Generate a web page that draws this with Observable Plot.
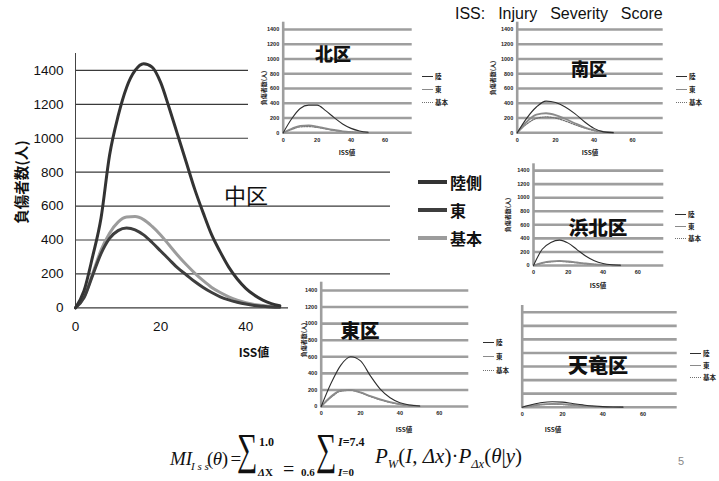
<!DOCTYPE html>
<html><head><meta charset="utf-8">
<script src="https://cdn.jsdelivr.net/npm/d3@7"></script>
<script src="https://cdn.jsdelivr.net/npm/@observablehq/plot@0.6"></script>
<style>
body{margin:0;background:#fff;}
#root{position:relative;width:719px;height:481px;overflow:hidden;background:#fff;}
.a{position:absolute;white-space:pre;line-height:1;}
.jp{font-family:"Noto Sans CJK JP",sans-serif;}
.f{position:absolute;white-space:pre;line-height:1;font-family:"Liberation Serif",serif;color:#111;}
.lg{position:absolute;height:0;}
</style></head>
<body><div id="root"></div>
<script>
// ---------------- data ----------------
const seriesMain = ["陸側", "東", "基本"];
const seriesInset = ["陸", "東", "基本"];
const yTicks = [0, 200, 400, 600, 800, 1000, 1200, 1400];
const xTicks = [0, 20, 40, 60];

const xsMain = [0,2,4,6,8,10,12,14,16,18,20,22,24,26,28,30,32,34,36,38,40,42,44,46,48];
const chuRiku    = [0,100,300,530,900,1130,1300,1400,1440,1420,1330,1180,1020,860,700,560,430,330,240,170,115,75,45,25,12];
const chuHigashi = [0,60,190,320,410,455,470,460,430,385,335,285,235,195,155,120,90,65,47,33,22,14,9,5,3];
const chuKihon   = [0,60,200,340,440,505,535,538,520,480,430,370,310,255,205,160,120,90,65,45,30,20,13,8,5];

const xsInset = [0,5,10,15,20,25,30,35,40,45,50];
const kitaRiku     = [0,190,330,375,375,300,205,120,60,25,8];
const kitaHigashi  = [0,55,95,100,85,60,38,20,10,4,1];
const kitaKihon    = [0,45,80,85,72,52,32,18,9,4,1];
const minamiRiku    = [0,200,350,430,410,350,260,150,60,12,2];
const minamiHigashi = [0,150,245,265,240,190,130,75,35,12,3];
const minamiKihon   = [0,120,195,215,200,160,110,65,30,10,3];
const hamakitaRiku    = [0,240,340,375,330,235,140,70,30,10,3];
const hamakitaHigashi = [0,40,62,68,60,45,30,18,9,4,1];
const hamakitaKihon   = [0,35,55,60,52,40,27,16,8,3,1];
const higashiRiku    = [0,280,500,600,550,370,210,105,45,18,6];
const higashiHigashi = [0,120,195,200,170,125,85,52,28,12,4];
const higashiKihon   = [0,110,185,195,165,120,80,48,25,10,3];
const tenryuRiku    = [0,40,70,80,75,55,35,18,8,3,1];
const tenryuHigashi = [0,25,42,48,44,33,22,12,6,2,1];
const tenryuKihon   = [0,22,38,44,40,30,20,11,5,2,0];

// ---------------- helpers ----------------
const root = document.getElementById("root");
const fmt = d3.format("d");
function rows(xs, arrays, names) {
  const out = [];
  arrays.forEach((arr, i) => arr.forEach((v, j) => out.push({x: xs[j], y: v, s: names[i]})));
  return out;
}
function place(el, left, top) {
  el.style.position = "absolute"; el.style.left = left + "px"; el.style.top = top + "px";
  el.style.background = "#fff"; el.style.maxWidth = "none";
  root.appendChild(el); return el;
}
function html(str, cls, style) {
  const d = document.createElement("div");
  d.className = cls; d.setAttribute("style", style); d.innerHTML = str;
  root.appendChild(d); return d;
}

// ---------------- main chart (中区) ----------------
const mainRows = rows(xsMain, [chuRiku, chuHigashi, chuKihon], seriesMain);
const mainColors = {"陸側": "#333", "東": "#3e3e3e", "基本": "#9c9c9c"};
const mainPlot = Plot.plot({
  width: 719, height: 481,
  marginLeft: 75, marginRight: 329, marginTop: 53, marginBottom: 173.7,
  style: "font-family:'Liberation Sans',sans-serif;background:#fff;",
  x: {domain: [0, 74]},
  y: {domain: [0, 1500]},
  marks: [
    Plot.ruleY(yTicks, {stroke: "#3a3a3a", strokeWidth: 1.2}),
    Plot.ruleX([0], {stroke: "#444", strokeWidth: 1}),
    Plot.axisY({ticks: yTicks, tickFormat: fmt, tickSize: 0, tickPadding: 12, fontSize: 13.5, fill: "#111", label: null}),
    Plot.axisX({ticks: xTicks, tickFormat: fmt, tickSize: 0, tickPadding: 14, fontSize: 13.5, fill: "#111", label: null}),
    ...seriesMain.slice().reverse().map(s =>
      Plot.line(mainRows.filter(d => d.s === s), {x: "x", y: "y", stroke: mainColors[s], strokeWidth: 3, curve: "monotone-x"}))
  ]
});
place(mainPlot, 0, 0);

// ---------------- insets ----------------
const insets = [
  {name: "北区", data: [kitaRiku, kitaHigashi, kitaKihon], left: 248, top: 20, w: 222, h: 138, ml: 34.7, mr: 58.3, mt: 1.7, mb: 25.7, xmax: 76, ylab: true},
  {name: "南区", data: [minamiRiku, minamiHigashi, minamiKihon], left: 478, top: 20, w: 241, h: 138, ml: 38.7, mr: 56.3, mt: 1.7, mb: 25.7, xmax: 76, ylab: true},
  {name: "浜北区", data: [hamakitaRiku, hamakitaHigashi, hamakitaKihon], left: 478, top: 159, w: 241, h: 131, ml: 55, mr: 55.7, mt: 4.3, mb: 25, xmax: 75, ylab: true},
  {name: "東区", data: [higashiRiku, higashiHigashi, higashiKihon], left: 288, top: 278, w: 222, h: 157, ml: 32.7, mr: 41.7, mt: 3.7, mb: 29, xmax: 75, ylab: true},
  {name: "天竜区", data: [tenryuRiku, tenryuHigashi, tenryuKihon], left: 508, top: 290, w: 211, h: 145, ml: 13.7, mr: 42.3, mt: 15, mb: 28.3, xmax: 77, ylab: false}
];
const insetStyle = {
  "陸": {stroke: "#2e2e2e", strokeWidth: 1.1},
  "東": {stroke: "#8a8a8a", strokeWidth: 1.8},
  "基本": {stroke: "#707070", strokeWidth: 1.2, strokeDasharray: "1.5,1.2"}
};
insets.forEach(c => {
  const r = rows(xsInset, c.data, seriesInset);
  const p = Plot.plot({
    width: c.w, height: c.h,
    marginLeft: c.ml, marginRight: c.mr, marginTop: c.mt, marginBottom: c.mb,
    style: "font-family:'Liberation Sans',sans-serif;background:#fff;",
    x: {domain: [0, c.xmax], axis: null},
    y: {domain: [0, 1500], axis: null},
    marks: [
      Plot.ruleY(yTicks, {stroke: "#9e9e9e", strokeWidth: 2.6}),
      Plot.ruleX([0], {stroke: "#9e9e9e", strokeWidth: 2.6}),
      c.ylab ? Plot.axisY({ticks: yTicks, tickFormat: fmt, tickSize: 0, tickPadding: 4, fontSize: 5.5, fontWeight: "bold", fill: "#222", label: null}) : null,
      Plot.axisX({ticks: xTicks, tickFormat: fmt, tickSize: 0, tickPadding: 5, fontSize: 5.5, fontWeight: "bold", fill: "#222", label: null}),
      ...seriesInset.slice().reverse().map(s =>
        Plot.line(r.filter(d => d.s === s), {x: "x", y: "y", curve: "monotone-x", ...insetStyle[s]}))
    ]
  });
  place(p, c.left, c.top);
});

// ---------------- texts ----------------
html("ISS:  Injury  Severity  Score", "a", "left:455px;top:5px;font:16px 'Liberation Sans',sans-serif;word-spacing:2px;color:#111;");
html("負傷者数(人)", "a jp", "left:21px;top:182px;transform:translate(-50%,-50%) rotate(-90deg);font-size:14.5px;font-weight:700;color:#111;");
html("中区", "a jp", "left:246px;top:194px;transform:translate(-50%,-50%);font-size:22px;color:#111;");
html("ISS値", "a jp", "left:254px;top:352px;transform:translate(-50%,-50%);font-size:12px;font-weight:700;color:#111;");

// main legend
[["陸側", 181.7], ["東", 210], ["基本", 238.3]].forEach(([s, y]) => {
  html("", "lg", `left:418px;top:${y - 2}px;width:29px;height:4px;background:${mainColors[s]};`);
  html(s, "a jp", `left:450px;top:${y}px;transform:translateY(-52%);font-size:16px;font-weight:700;color:#111;`);
});

// inset texts
const insetText = [
  {title: "北区", tx: 333, ty: 53, fs: 18, ylx: 264, yly: 88, isx: 347, isy: 152, lgx: 422, lgy: [76, 89.3, 101.7]},
  {title: "南区", tx: 589, ty: 68, fs: 18, ylx: 493, yly: 78, isx: 590, isy: 152, lgx: 676, lgy: [76, 89, 101.7]},
  {title: "浜北区", tx: 598, ty: 227, fs: 19.5, ylx: 508, yly: 215, isx: 598, isy: 284.5, lgx: 675, lgy: [214, 226, 237.7]},
  {title: "東区", tx: 360, ty: 330, fs: 19.5, ylx: 304, yly: 340, isx: 404, isy: 429, lgx: 483, lgy: [341.7, 356, 370]},
  {title: "天竜区", tx: 598, ty: 365, fs: 20, ylx: null, yly: null, isx: 553, isy: 429, lgx: 690, lgy: [352.7, 365, 377.3]}
];
insetText.forEach(t => {
  html(t.title, "a jp", `left:${t.tx}px;top:${t.ty}px;transform:translate(-50%,-50%);font-size:${t.fs}px;font-weight:900;color:#111;`);
  if (t.ylx !== null) html("負傷者数(人)", "a jp", `left:${t.ylx}px;top:${t.yly}px;transform:translate(-50%,-50%) rotate(-90deg);font-size:6px;font-weight:700;color:#222;`);
  html("ISS値", "a jp", `left:${t.isx}px;top:${t.isy}px;transform:translate(-50%,-50%);font-size:6.5px;font-weight:700;color:#222;`);
  seriesInset.forEach((s, i) => {
    const st = insetStyle[s];
    const y = t.lgy[i];
    const border = s === "基本" ? `border-top:1.3px dotted ${st.stroke};` : `border-top:${st.strokeWidth}px solid ${st.stroke};`;
    html("", "lg", `left:${t.lgx}px;top:${y}px;width:11px;${border}`);
    html(s, "a jp", `left:${t.lgx + 13}px;top:${y}px;transform:translateY(-50%);font-size:6.5px;font-weight:700;color:#222;`);
  });
});

// formula
html("MI", "f", "left:170px;top:449px;font-size:19px;font-style:italic;");
html("I s s", "f", "left:191px;top:460.5px;font-size:11px;font-style:italic;");
html("(<i>θ</i>)<span style='margin-left:3px'>=</span>", "f", "left:207px;top:449px;font-size:19px;letter-spacing:-0.5px;");
html("∑", "f", "left:237px;top:427.5px;font-size:44px;transform:scaleX(0.65);transform-origin:left top;");
html("1.0", "f", "left:259px;top:436.3px;font-size:12px;font-weight:bold;");
html("<i>Δ</i>X", "f", "left:258px;top:467px;font-size:11px;font-weight:bold;");
html("=", "f", "left:283px;top:459.3px;font-size:20px;");
html("0.6", "f", "left:301px;top:467px;font-size:11px;font-weight:bold;");
html("∑", "f", "left:316px;top:427.5px;font-size:44px;transform:scaleX(0.65);transform-origin:left top;");
html("<i>I</i>=7.4", "f", "left:338px;top:436.3px;font-size:12px;font-weight:bold;");
html("<i>I</i>=0", "f", "left:338px;top:467px;font-size:11px;font-weight:bold;");
html("<i>P<sub style='font-size:12.5px'>W</sub></i>(<i>I</i>, <i>Δx</i>)·<i>P<sub style='font-size:12.5px'>Δx</sub></i>(<i>θ</i>|<i>y</i>)", "f", "left:375px;top:445.5px;font-size:21px;");
html("5", "a", "left:678px;top:456px;font-size:11px;color:#888;font-family:'Liberation Sans',sans-serif;");
</script>
</body></html>
